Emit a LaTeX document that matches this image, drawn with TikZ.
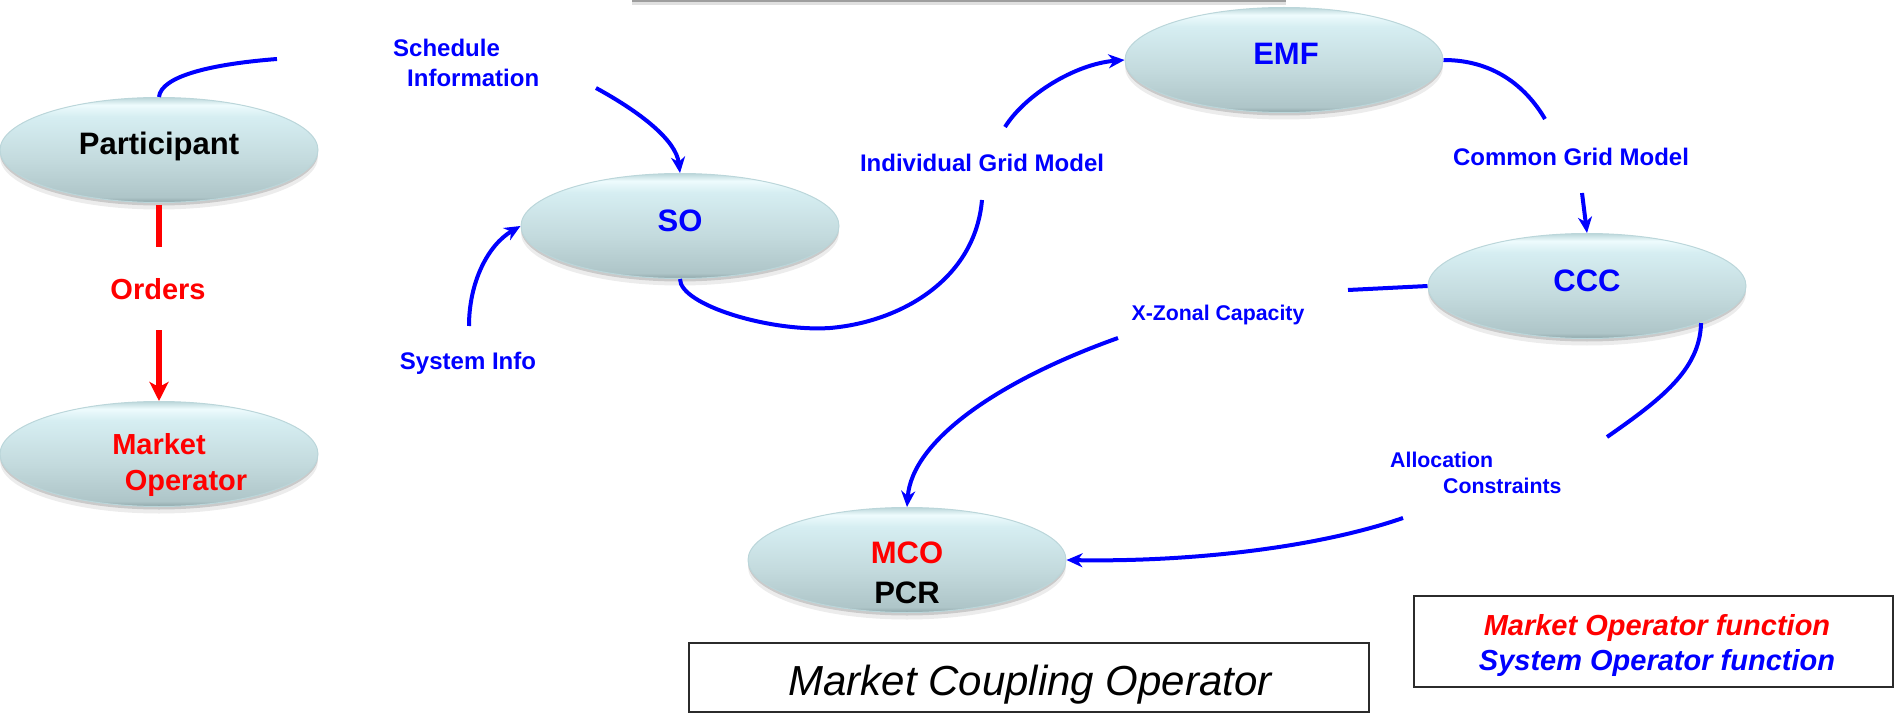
\documentclass[tikz,border=0pt]{standalone}
\usepackage{fontspec}
\setmainfont{Liberation Sans}
\usetikzlibrary{shapes.geometric,arrows.meta,shadows}

\definecolor{mrkred}{HTML}{FF0000}
\definecolor{sysblue}{HTML}{0000FF}
\definecolor{pillbot}{HTML}{8DA5A8}
\definecolor{pilllow}{HTML}{AEC5C8}
\definecolor{pillmid}{HTML}{C3DADD}
\definecolor{pillup}{HTML}{D6EEF2}
\definecolor{pillhi}{HTML}{EEFBFD}
\definecolor{pillrim}{HTML}{BBD6DA}
\definecolor{framegray}{HTML}{2B2B2B}

% glossy vertical gradient for the role ellipses (box maps to 25bp..75bp)
\pgfdeclareverticalshading{pillshade}{100bp}{%
  color(0bp)=(pillbot); color(25bp)=(pillbot); color(27.5bp)=(pilllow);
  color(45bp)=(pillmid); color(66bp)=(pillup); color(71.5bp)=(pillhi);
  color(75bp)=(pillrim); color(100bp)=(pillrim)}

\tikzset{
  pill/.style={ellipse, minimum width=318pt, minimum height=105pt, inner sep=0pt,
    shading=pillshade, draw=pillrim, line width=1pt,
    drop shadow={shadow xshift=0pt, shadow yshift=-3pt, opacity=0.22, fill=black!70},
    drop shadow={shadow xshift=0pt, shadow yshift=-7pt, opacity=0.12, fill=black!60}},
  rolebig/.style={font=\bfseries\fontsize{31}{36}\selectfont, inner sep=0pt,
    text height=22pt, text depth=0pt},
  rolemid/.style={font=\bfseries\fontsize{29}{34}\selectfont, inner sep=0pt,
    text height=20.8pt, text depth=0pt},
  flowlbl/.style={font=\bfseries\fontsize{24}{28}\selectfont, text=sysblue, inner sep=0pt,
    text height=17.2pt, text depth=0pt},
  flowsml/.style={font=\bfseries\fontsize{21.3}{25}\selectfont, text=sysblue, inner sep=0pt,
    text height=15.3pt, text depth=0pt},
  bluecon/.style={draw=sysblue, line width=4pt},
  redcon/.style={draw=mrkred, line width=6pt},
  framebox/.style={draw=framegray, line width=2pt, fill=white, inner sep=0pt},
  legendtxt/.style={font=\bfseries\itshape\fontsize{29}{34}\selectfont, inner sep=0pt,
    text height=20.8pt, text depth=0pt},
  >={Stealth[length=16pt,width=14pt,inset=5pt]}
}

\begin{document}
\begin{tikzpicture}[x=1pt,y=-1pt]
\useasboundingbox (0,0) rectangle (1895,714);

% edge of a panel above the frame
\fill[black!38] (632,0) rectangle (1286,2.5);
\fill[black!12] (632,2.5) rectangle (1286,5);

% role ellipses
\node[pill] (part) at (159,150) {};
\node[pill] (mo)   at (159,454) {};
\node[pill] (so)   at (680,226) {};
\node[pill] (emf)  at (1284,60) {};
\node[pill] (ccc)  at (1587,286) {};
\node[pill] (mco)  at (907,560) {};

% role names
\node[rolebig] (part-t) at (159,144) {Participant};
\node[rolemid, text=mrkred] (mo-t1) at (159,444.5) {Market};
\node[rolemid, text=mrkred] (mo-t2) at (186,480) {Operator};
\node[rolebig, text=sysblue] (so-t)  at (680,220.5) {SO};
\node[rolebig, text=sysblue] (emf-t) at (1286,54) {EMF};
\node[rolebig, text=sysblue] (ccc-t) at (1587,280) {CCC};
\node[rolebig, text=mrkred] (mco-t1) at (907,552.5) {MCO};
\node[rolebig] (mco-t2) at (907,592) {PCR};

% flow labels
\node[rolemid, text=mrkred] (orders) at (158,289) {Orders};
\node[flowlbl, anchor=west] (sched1) at (393,48) {Schedule};
\node[flowlbl, anchor=west] (sched2) at (407,78) {Information};
\node[flowlbl] (sysinfo) at (468,361) {System Info};
\node[flowlbl] (igm) at (982,163) {Individual Grid Model};
\node[flowlbl] (cgm) at (1571,157) {Common Grid Model};
\node[flowsml] (xzc) at (1218,313) {X-Zonal Capacity};
\node[flowsml, anchor=west] (alloc1) at (1390,460) {Allocation};
\node[flowsml, anchor=west] (alloc2) at (1443,486) {Constraints};

% free ends of the connectors
\coordinate (pfree)   at (277,59);
\coordinate (ordtop)  at (159,247);
\coordinate (ordbot)  at (159,330);
\coordinate (schfree) at (596,88);
\coordinate (sysfree) at (469,326);
\coordinate (igmlow)  at (982,200);
\coordinate (igmup)   at (1005,127);
\coordinate (cgmup)   at (1545,119);
\coordinate (cgmlow)  at (1582,193);
\coordinate (xzright) at (1348,290);
\coordinate (xzleft)  at (1118,338);
\coordinate (alup)    at (1607,437);
\coordinate (allow)   at (1403,518);

% participant: schedules up, orders down to the market operator
\draw[bluecon] (part.north) .. controls (161,76) and (212,64) .. (pfree);
\draw[redcon] ([yshift=-2pt]part.south) -- (ordtop);
\draw[redcon, -{Stealth[length=19pt,width=19pt,inset=5pt]}] (ordbot) -- (mo.north);

% inputs to the system operator
\draw[bluecon, ->] (schfree) .. controls (640,112) and (676,140) .. (so.north);
\draw[bluecon, ->] (sysfree) .. controls (469,282) and (488,245) .. (so.west);

% individual grid model to the merging function
\draw[bluecon] (so.south) .. controls (680,305) and (770,332) .. (830,328)
  .. controls (900,322) and (975,280) .. (igmlow);
\draw[bluecon, ->] (igmup) .. controls (1025,95) and (1075,64) .. (emf.west);

% common grid model to the capacity calculator
\draw[bluecon] (emf.east) .. controls (1492,60) and (1525,85) .. (cgmup);
\draw[bluecon, ->] (cgmlow) -- (ccc.north);

% cross-zonal capacity and allocation constraints to the coupling operator
\draw[bluecon] (ccc.west) -- (xzright);
\draw[bluecon, ->] (xzleft) .. controls (1000,380) and (912,440) .. (mco.north);
\draw[bluecon] (ccc.-18) .. controls (1700,370) and (1660,400) .. (alup);
\draw[bluecon, ->] (allow) .. controls (1310,550) and (1180,562) .. (mco.east);

% captions
\node[framebox, minimum width=680pt, minimum height=69pt] (mcobox) at (1029,677.5) {};
\node[font=\itshape\fontsize{42}{48}\selectfont, inner sep=0pt, text height=30pt, text depth=0pt]
  (mcobox-t) at (1030,680) {Market Coupling Operator};
\node[framebox, minimum width=479pt, minimum height=91pt] (legend) at (1653.5,641.5) {};
\node[legendtxt, text=mrkred] (legend-t1) at (1657,625) {Market Operator function};
\node[legendtxt, text=sysblue] (legend-t2) at (1657,660) {System Operator function};
\end{tikzpicture}
\end{document}
